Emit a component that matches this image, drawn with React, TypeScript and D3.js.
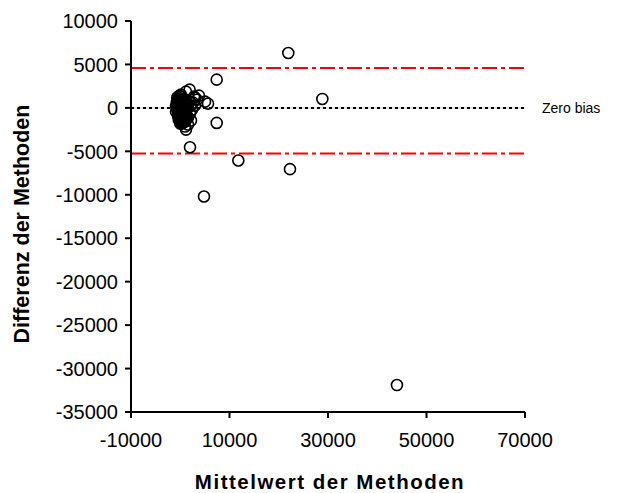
import React from "react";
import * as d3 from "d3";

// Bland-Altman: mean of the two methods vs. their difference
const meanValues = [
  150, 1900, 1170, 2790, 3400, 560, -460, -660, -860, -460, -50, 360, 960, 1170, 960,
  1570, 1980, 2380, 2990, 1370, 560, -50, -250, 760, 1170, 1780, 2590, 2180, 1570, 150,
  -860, 360, 960, -460, 2990, 3800, 1570, 2180, 560, -660,
  -600, -400, -200, 0, 200, 400, -700, -500, -300, -100, 100, 300, 500, 700,
  -600, -400, -200, 0, 200, 400, 600, 800, 1000, -500, -300, -100, 100, 300,
  500, 700, 900, 1100, 1300, -400, -200, 0, 200, 400, 600, 800, 1000, 1200,
  -300, 0, 300, 600, 900, 1200, 1500, 0, 400, 800,
  5030, 5640, 7400, 7400, 1980, 11790, 21940, 28850, 22280, 4820, 44000,
];
const diffValues = [
  1530, 2100, 1870, 1300, 950, 950, 500, 30, -430, -890, -1350, -1800, -2150, -2500, -1580,
  -1120, -660, -200, 260, 380, 30, -200, 950, -540, -200, 720, 610, -1460, -1920, -1000,
  260, 500, -1120, -430, 1180, 1410, 30, 260, -770, -80,
  1200, 1000, 1400, 1100, 1300, 900, 700, 600, 800, 500, 700, 600, 400, 800,
  200, 100, 300, 0, 200, 100, 300, 0, 200, -300, -400, -200, -500, -300,
  -400, -600, -300, -500, -100, -900, -1000, -800, -1100, -900, -1000, -800, -700, -900,
  -1400, -1500, -1300, -1500, -1200, -1400, -1000, -1800, -1700, -1600,
  720, 490, 3250, -1730, -4530, -6060, 6320, 1030, -7050, -10200, -31900,
];

const upperLimit = 4600;
const lowerLimit = -5250;
const zeroBias = 0;

const xTicks = [-10000, 10000, 30000, 50000, 70000];
const yTicks = [10000, 5000, 0, -5000, -10000, -15000, -20000, -25000, -30000, -35000];

const xTitle = "Mittelwert der Methoden";
const yTitle = "Differenz der Methoden";
const zeroLabel = "Zero bias";

export default function App() {
  const width = 621;
  const height = 493;
  const left = 131;
  const right = 525;
  const top = 21;
  const bottom = 412;

  const x = d3.scaleLinear().domain([-10000, 70000]).range([left, right]);
  const y = d3.scaleLinear().domain([-35000, 10000]).range([bottom, top]);

  const font = "Arial, 'Liberation Sans', sans-serif";
  const points = meanValues.map((m, i) => ({ m, d: diffValues[i] }));

  return (
    <svg
      width={width}
      height={height}
      style={{ position: "absolute", left: 0, top: 0, background: "#fff" }}
      fontFamily={font}
    >
      {/* limits of agreement */}
      {[upperLimit, lowerLimit].map((v, i) => (
        <line
          key={i}
          x1={left}
          x2={right}
          y1={y(v)}
          y2={y(v)}
          stroke="#ff0000"
          strokeWidth={2}
          strokeDasharray="15,4,4,4"
        />
      ))}
      {/* zero bias line */}
      <line x1={left} x2={right} y1={y(zeroBias)} y2={y(zeroBias)} stroke="#c8c8c8" strokeWidth={1} />
      <line
        x1={left}
        x2={right}
        y1={y(zeroBias)}
        y2={y(zeroBias)}
        stroke="#000"
        strokeWidth={2}
        strokeDasharray="3,3"
      />
      <text x={542} y={y(zeroBias)} dy="0.35em" fontSize={14} fill="#000">
        {zeroLabel}
      </text>

      {/* points */}
      {points.map((p, i) => (
        <circle
          key={i}
          cx={x(p.m)}
          cy={y(p.d)}
          r={5.5}
          fill="none"
          stroke="#000"
          strokeWidth={1.6}
        />
      ))}

      {/* axes */}
      <line x1={left} x2={left} y1={top} y2={bottom} stroke="#000" strokeWidth={2} />
      <line x1={left} x2={right} y1={bottom} y2={bottom} stroke="#000" strokeWidth={2} />
      {yTicks.map((t) => (
        <g key={t}>
          <line x1={left - 6} x2={left} y1={y(t)} y2={y(t)} stroke="#000" strokeWidth={2} />
          <text x={left - 13} y={y(t)} dy="0.36em" textAnchor="end" fontSize={20} fill="#000">
            {t}
          </text>
        </g>
      ))}
      {xTicks.map((t) => (
        <g key={t}>
          <line x1={x(t)} x2={x(t)} y1={bottom} y2={bottom + 6} stroke="#000" strokeWidth={2} />
          <text x={x(t)} y={447} textAnchor="middle" fontSize={20} fill="#000">
            {t}
          </text>
        </g>
      ))}

      {/* titles */}
      <text
        x={330}
        y={489}
        textAnchor="middle"
        fontSize={20.5}
        fontWeight="bold"
        letterSpacing={1.5}
        fill="#000"
      >
        {xTitle}
      </text>
      <text
        transform={`translate(29, 224) rotate(-90)`}
        textAnchor="middle"
        fontSize={21.5}
        fontWeight="bold"
        fill="#000"
      >
        {yTitle}
      </text>
    </svg>
  );
}
